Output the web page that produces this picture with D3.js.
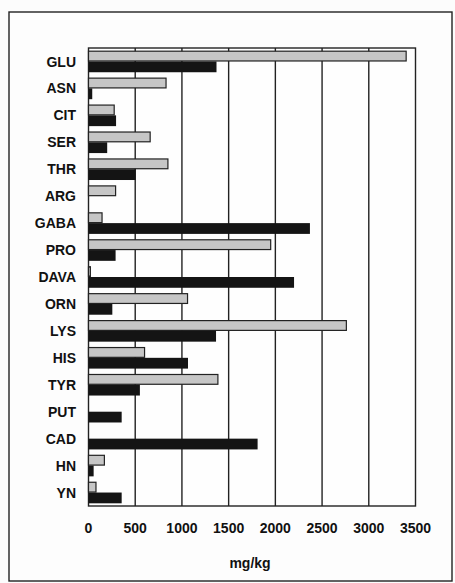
<!DOCTYPE html>
<html>
<head>
<meta charset="utf-8">
<script src="https://cdn.jsdelivr.net/npm/d3@7/dist/d3.min.js"></script>
<style>
	body { margin: 0; background: #fcfcfc; }
	svg { display: block; }
	.lbl { font-family: "Liberation Sans", Arial, sans-serif; font-weight: bold; font-size: 14px; fill: #111; }
	.grid line { stroke: #222; stroke-width: 1.4px; }
</style>
</head>
<body>
<svg id="chart" width="455" height="583"></svg>
<script>
	var categories = ["GLU", "ASN", "CIT", "SER", "THR", "ARG", "GABA", "PRO", "DAVA",
	                  "ORN", "LYS", "HIS", "TYR", "PUT", "CAD", "HN", "YN"];
	// light grey series
	var greyValues  = [3400, 830, 275, 660, 850, 290, 145, 1950, 20,
	                   1060, 2760, 600, 1385, 0, 0, 170, 80];
	// black series
	var blackValues = [1370, 40, 295, 200, 505, 0, 2370, 290, 2200,
	                   255, 1365, 1065, 550, 355, 1810, 55, 355];
	var xTicks = [0, 500, 1000, 1500, 2000, 2500, 3000, 3500];
	var seriesNames = ["grey", "black"];

	var data = categories.map(function(c, i) {
		return {cat: c, grey: greyValues[i], black: blackValues[i]};
	});

	var svg = d3.select("#chart");
	var plot = {left: 88.5, right: 415.5, top: 48, bottom: 506};

	// outer frame
	svg.append("rect")
		.attr("x", 9).attr("y", 12)
		.attr("width", 443).attr("height", 569)
		.attr("fill", "#fdfdfd")
		.attr("stroke", "#222")
		.attr("stroke-width", 1.4);

	var x = d3.scaleLinear()
		.domain([0, 3500])
		.range([plot.left, plot.right]);

	var y0 = d3.scaleBand()
		.domain(categories)
		.range([plot.top, plot.bottom])
		.paddingInner(0.2)
		.paddingOuter(0.1);

	var y1 = d3.scaleBand()
		.domain(seriesNames)
		.range([0, y0.bandwidth()]);

	// plot area
	svg.append("rect")
		.attr("x", plot.left).attr("y", plot.top)
		.attr("width", plot.right - plot.left)
		.attr("height", plot.bottom - plot.top)
		.attr("fill", "#fefefe")
		.attr("stroke", "#222")
		.attr("stroke-width", 1.4);

	svg.append("g")
		.attr("class", "grid")
		.selectAll("line")
		.data(xTicks.slice(1, -1))
		.enter().append("line")
		.attr("x1", function(d) { return x(d); })
		.attr("x2", function(d) { return x(d); })
		.attr("y1", plot.top)
		.attr("y2", plot.bottom);

	var groups = svg.append("g")
		.selectAll("g")
		.data(data)
		.enter().append("g")
		.attr("transform", function(d) { return "translate(0," + y0(d.cat) + ")"; });

	groups.filter(function(d) { return d.grey > 0; })
		.append("rect")
		.attr("x", x(0))
		.attr("y", y1("grey") + 0.5)
		.attr("width", function(d) { return x(d.grey) - x(0); })
		.attr("height", y1.bandwidth() - 1)
		.attr("fill", "#c6c6c6")
		.attr("stroke", "#222")
		.attr("stroke-width", 1.2);

	groups.filter(function(d) { return d.black > 0; })
		.append("rect")
		.attr("x", x(0))
		.attr("y", y1("black"))
		.attr("width", function(d) { return x(d.black) - x(0); })
		.attr("height", y1.bandwidth())
		.attr("fill", "#141414");

	// category labels
	svg.append("g")
		.selectAll("text")
		.data(categories)
		.enter().append("text")
		.attr("class", "lbl")
		.attr("x", 76)
		.attr("y", function(d) { return y0(d) + y0.bandwidth() / 2; })
		.attr("text-anchor", "end")
		.attr("dy", "0.36em")
		.text(function(d) { return d; });

	// x tick labels
	svg.append("g")
		.selectAll("text")
		.data(xTicks)
		.enter().append("text")
		.attr("class", "lbl")
		.attr("x", function(d) { return x(d); })
		.attr("y", 527.5)
		.attr("text-anchor", "middle")
		.attr("dy", "0.36em")
		.text(function(d) { return d; });

	svg.append("text")
		.attr("class", "lbl")
		.attr("x", 250)
		.attr("y", 563)
		.attr("text-anchor", "middle")
		.attr("dy", "0.36em")
		.text("mg/kg");
</script>
</body>
</html>
